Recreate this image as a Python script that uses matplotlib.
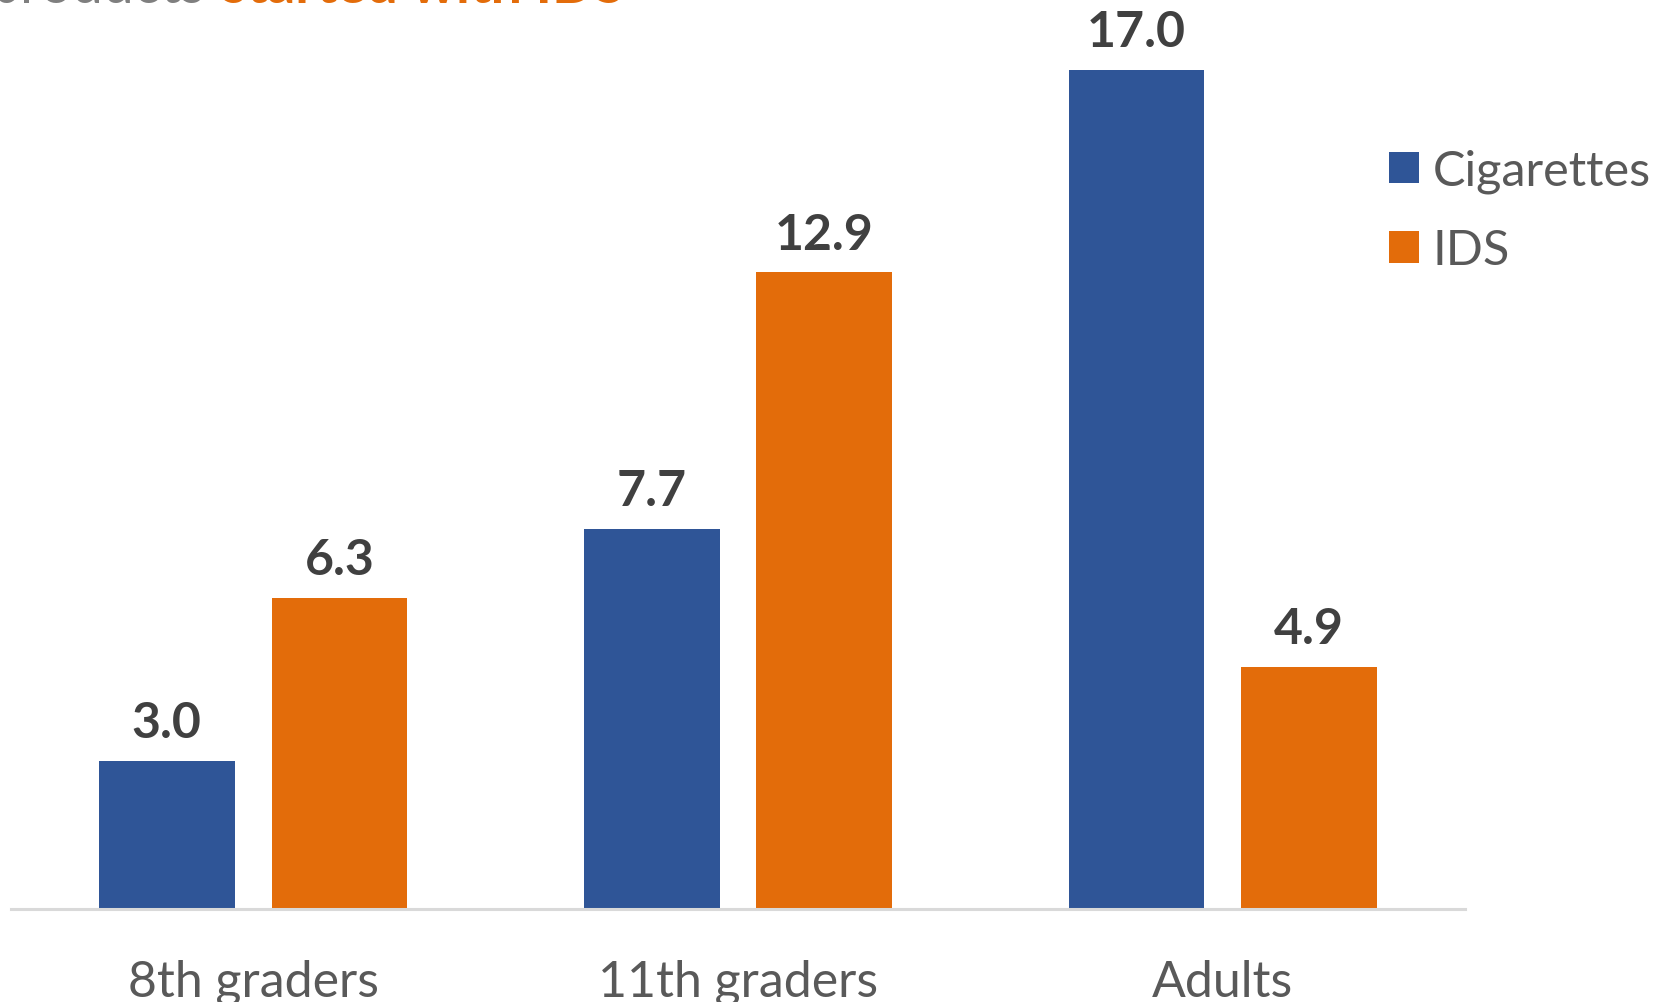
import matplotlib
matplotlib.use("Agg")
import matplotlib.pyplot as plt
import numpy as np

categories = ["8th graders", "11th graders", "Adults"]
cigarettes = [3.0, 7.7, 17.0]
ids = [6.3, 12.9, 4.9]
series_names = ["Cigarettes", "IDS"]

BLUE = "#2F5597"
ORANGE = "#E36C0A"
FONT = ["Lato", "DejaVu Sans"]

fig = plt.figure(figsize=(16.65, 10.03), dpi=100)
ax = fig.add_axes([10/1568, 88/945, 1370/1568, 857/945])

x = np.arange(len(categories))
w = 0.28
off = 0.178
b1 = ax.bar(x - off, cigarettes, w, color=BLUE, label=series_names[0])
b2 = ax.bar(x + off, ids, w, color=ORANGE, label=series_names[1])

for bars, vals in ((b1, cigarettes), (b2, ids)):
    for r, v in zip(bars, vals):
        ax.annotate(f"{v:.1f}", (r.get_x() + r.get_width()/2, v),
                    xytext=(0, 11), textcoords="offset points",
                    ha="center", va="bottom", fontsize=36, fontweight="bold",
                    color="#404040", family=FONT)

ax.set_xlim(-0.5, 2.5)
ax.set_ylim(0, 18.43)
for s in ["top", "right", "left"]:
    ax.spines[s].set_visible(False)
ax.spines["bottom"].set_color("#D9D9D9")
ax.spines["bottom"].set_linewidth(2.2)
ax.set_yticks([])
ax.set_xticks(x)
ax.set_xticklabels(categories, fontsize=36, color="#595959", family=FONT)
ax.tick_params(axis="x", length=0, pad=36)

leg = fig.legend(handles=[b1, b2], labels=series_names, loc="upper left",
                 bbox_to_anchor=(1308/1568, 1 - 141/945), frameon=False,
                 prop={"family": FONT, "size": 35}, labelcolor="#595959",
                 handlelength=0.62, handleheight=0.62, handletextpad=0.28,
                 labelspacing=0.72, borderpad=0, borderaxespad=0)

fig.text(205/1665, 1 - 3/1003, "products", ha="right", va="baseline",
         fontsize=40, color="#7F7F7F", family=FONT)
fig.text(222/1665, 1 - 3/1003, "started with IDS", ha="left", va="baseline",
         fontsize=40, color=ORANGE, family=FONT, fontweight="bold")

fig.savefig("out.png", dpi=100)
